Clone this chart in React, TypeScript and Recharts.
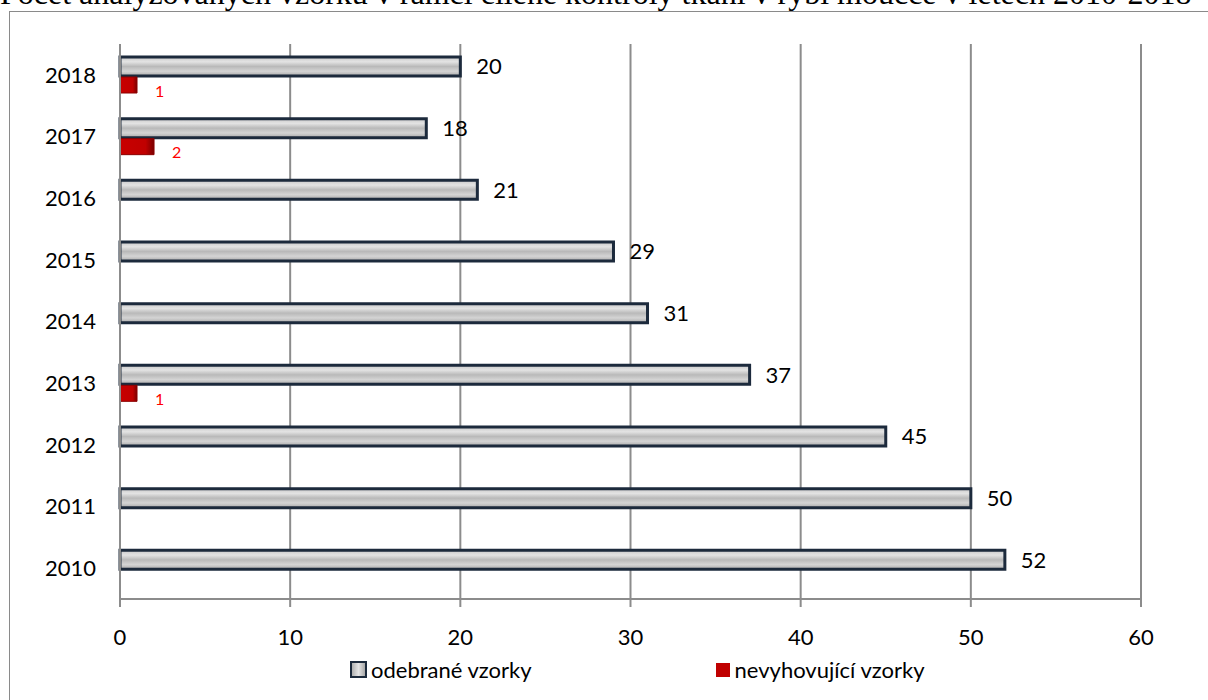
import React from "react"
import {
  BarChart,
  Bar,
  XAxis,
  YAxis,
  CartesianGrid,
  Legend,
  LabelList,
} from "recharts"

const years = ["2018", "2017", "2016", "2015", "2014", "2013", "2012", "2011", "2010"]
const odebrane = [20, 18, 21, 29, 31, 37, 45, 50, 52]
const nevyhovujici = [1, 2, null, null, null, 1, null, null, null]
const xTicks = [0, 10, 20, 30, 40, 50, 60]

const TITLE =
  "Počet analyzovaných vzorků v rámci cílené kontroly tkání v rybí moučce v letech 2010-2018"

const FONT = "Lato, 'Open Sans', sans-serif"
const AXIS_GRAY = "#8c8c8c"

const data = years.map((year, i) => ({
  year,
  odebrane: odebrane[i],
  nevyhovujici: nevyhovujici[i],
}))

function LegendBox() {
  return (
    <div
      style={{
        display: "flex",
        fontFamily: FONT,
        fontSize: 22,
        color: "#000",
        paddingLeft: 350,
      }}
    >
      <div style={{ display: "flex", alignItems: "center" }}>
        <span
          style={{
            width: 13,
            height: 13,
            border: "2px solid #1c2a3c",
            background: "linear-gradient(90deg,#b0b0b0,#e4e4e4,#a8a8a8)",
            marginRight: 4,
          }}
        />
        odebrané vzorky
      </div>
      <div style={{ display: "flex", alignItems: "center", marginLeft: 184 }}>
        <span
          style={{ width: 14, height: 14, background: "#c00000", marginRight: 5 }}
        />
        nevyhovující vzorky
      </div>
    </div>
  )
}

export default function App() {
  return (
    <div
      style={{
        position: "absolute",
        left: 0,
        top: 0,
        width: 1208,
        height: 700,
        overflow: "hidden",
        background: "#fff",
      }}
    >
      <div
        style={{
          position: "absolute",
          left: 0,
          top: -23,
          fontFamily: "'Liberation Serif', 'Times New Roman', serif",
          fontSize: 32,
          lineHeight: "32px",
          whiteSpace: "nowrap",
          color: "#000",
        }}
      >
        {TITLE}
      </div>
      <div
        style={{
          position: "absolute",
          left: 9,
          top: 11,
          width: 1220,
          height: 720,
          border: "1px solid #8a8a8a",
        }}
      />
      <div style={{ position: "absolute", left: 0, top: 0 }}>
        <BarChart
          width={1208}
          height={700}
          data={data}
          layout="vertical"
          margin={{ top: 44, right: 67, left: 60, bottom: 34 }}
          barGap={1}
          barCategoryGap={0}
        >
          <defs>
            <linearGradient id="metal" x1="0" y1="0" x2="0" y2="1">
              <stop offset="0%" stopColor="#c9c9c9" />
              <stop offset="25%" stopColor="#e3e3e3" />
              <stop offset="50%" stopColor="#b9b9b9" />
              <stop offset="75%" stopColor="#d4d4d4" />
              <stop offset="100%" stopColor="#a9a9a9" />
            </linearGradient>
            <linearGradient id="redbar" x1="0" y1="0" x2="1" y2="0">
              <stop offset="0%" stopColor="#c80000" />
              <stop offset="75%" stopColor="#c00000" />
              <stop offset="100%" stopColor="#7a0000" />
            </linearGradient>
          </defs>
          <CartesianGrid
            horizontal={false}
            stroke={AXIS_GRAY}
            strokeWidth={2}
          />
          <XAxis
            type="number"
            domain={[0, 60]}
            ticks={xTicks}
            height={40}
            stroke={AXIS_GRAY}
            strokeWidth={2}
            tickSize={8}
            tick={{ fill: "#000", fontSize: 22, fontFamily: FONT, dy: 20 }}
          />
          <YAxis
            type="category"
            dataKey="year"
            width={60}
            stroke={AXIS_GRAY}
            strokeWidth={2}
            tickLine={false}
            tickMargin={18}
            tick={{ fill: "#000", fontSize: 22, fontFamily: FONT }}
          />
          <Legend
            verticalAlign="bottom"
            content={() => <LegendBox />}
            wrapperStyle={{ left: 0, bottom: 17, width: 1208 }}
          />
          <Bar
            dataKey="odebrane"
            barSize={19}
            fill="url(#metal)"
            stroke="#1c2a3c"
            strokeWidth={3}
            isAnimationActive={false}
          >
            <LabelList
              dataKey="odebrane"
              position="right"
              offset={16}
              fill="#000"
              fontSize={22}
              fontFamily={FONT}
            />
          </Bar>
          <Bar
            dataKey="nevyhovujici"
            barSize={16}
            fill="url(#redbar)"
            stroke="#8b0000"
            strokeWidth={1}
            isAnimationActive={false}
          >
            <LabelList
              dataKey="nevyhovujici"
              position="right"
              offset={18}
              fill="#ff0000"
              fontSize={16}
              fontFamily={FONT}
              dy={6}
            />
          </Bar>
        </BarChart>
      </div>
    </div>
  )
}
